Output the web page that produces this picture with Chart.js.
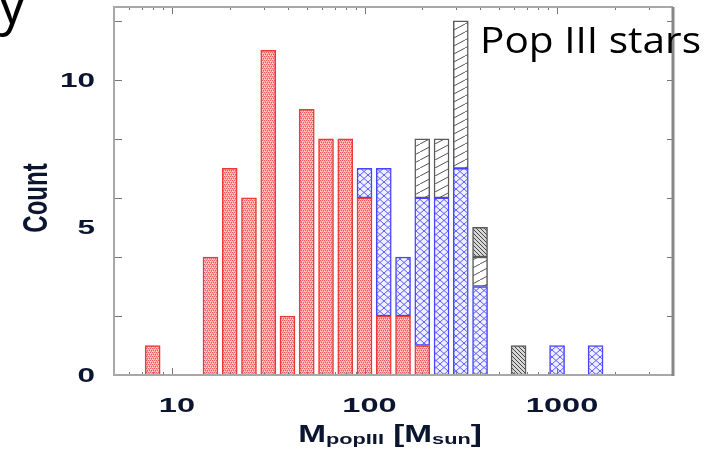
<!DOCTYPE html>
<html><head><meta charset="utf-8">
<script src="https://cdn.jsdelivr.net/npm/chart.js@4"></script>
<style>html,body{margin:0;padding:0;background:#fff;overflow:hidden}#c{display:block}</style>
</head><body>
<canvas id="c" width="716" height="453"></canvas>
<script>
// ---- data ----
const binCenters      = [7.94, 15.85, 19.95, 25.12, 31.62, 39.81, 50.12, 63.10, 79.43, 100, 125.9, 158.5, 199.5, 251.2, 316.2, 398.1, 631.0, 1000, 1585];
const redCounts       = [1, 4, 7, 6, 11, 2, 9, 8, 8, 6, 2, 2, 1, 0, 0, 0, 0, 0, 0];
const blueCounts      = [0, 0, 0, 0, 0, 0, 0, 0, 0, 1, 5, 2, 5, 6, 7, 3, 0, 1, 1];
const grayCounts      = [0, 0, 0, 0, 0, 0, 0, 0, 0, 0, 0, 0, 2, 2, 5, 1, 0, 0, 0];
const grayDenseCounts = [0, 0, 0, 0, 0, 0, 0, 0, 0, 0, 0, 0, 0, 0, 0, 1, 1, 0, 0];
const yTickLabels = [0, 5, 10];
const yTickMarks  = [2, 4, 6, 8, 10, 12];
const xTickLabels = [10, 100, 1000];
const xMin = 5, xMax = 4000, yMax = 12.47;

// ---- patterns ----
function tile(w, h, draw) {
  const c = document.createElement('canvas'); c.width = w; c.height = h;
  const g = c.getContext('2d'); draw(g, w, h);
  return document.getElementById('c').getContext('2d').createPattern(c, 'repeat');
}
const redPat = tile(4, 4, (g) => {
  g.fillStyle = '#f9b4b4'; g.fillRect(0, 0, 4, 4);
  g.fillStyle = '#ec5858';
  g.fillRect(0, 0, 1, 1); g.fillRect(2, 0, 1, 1); g.fillRect(1, 2, 1, 1); g.fillRect(3, 2, 1, 1);
  g.fillStyle = '#f38a8a'; g.fillRect(1, 1, 1, 1); g.fillRect(3, 3, 1, 1);
  g.fillStyle = '#fde0e0'; g.fillRect(0, 3, 1, 1); g.fillRect(2, 1, 1, 1);
});
const bluePat = tile(8, 7, (g, w, h) => {
  g.fillStyle = '#f0f0ff'; g.fillRect(0, 0, w, h);
  g.strokeStyle = '#5c5cff'; g.lineWidth = 1;
  g.beginPath(); g.moveTo(0, 0); g.lineTo(w, h); g.moveTo(w, 0); g.lineTo(0, h); g.stroke();
});
const grayPat = tile(15, 8, (g, w, h) => {
  g.fillStyle = '#ffffff'; g.fillRect(0, 0, w, h);
  g.strokeStyle = '#555'; g.lineWidth = 1;
  g.beginPath();
  g.moveTo(0, h); g.lineTo(w, 0);
  g.moveTo(-w, h); g.lineTo(0, 0);
  g.moveTo(w, h); g.lineTo(2 * w, 0);
  g.stroke();
});
const grayDensePat = tile(4, 4, (g, w, h) => {
  g.fillStyle = '#d8d8d8'; g.fillRect(0, 0, w, h);
  g.strokeStyle = '#444'; g.lineWidth = 1;
  g.beginPath(); g.moveTo(-1, -1); g.lineTo(w + 1, h + 1);
  g.moveTo(-1, h - 1); g.lineTo(1, h + 1); g.moveTo(w - 1, -1); g.lineTo(w + 1, 1); g.stroke();
});

function pts(counts) {
  const out = [];
  counts.forEach((v, i) => { if (v > 0) out.push({ x: binCenters[i], y: v }); });
  return out;
}
function ds(counts, bg, border) {
  return { data: pts(counts), backgroundColor: bg, borderColor: border, borderWidth: 1.5,
           borderSkipped: false, barThickness: 15, stack: 's' };
}

const NAVY = '#0c1530';
function sText(ctx, txt, x, y, sx, align) {
  ctx.save(); ctx.translate(x, y); ctx.scale(sx, 1); ctx.textAlign = align; ctx.fillText(txt, 0, 0); ctx.restore();
}

const frame = {
  id: 'frame',
  afterDatasetsDraw(chart) {
    const ctx = chart.ctx, a = chart.chartArea, xs = chart.scales.x, ys = chart.scales.y;
    ctx.save();
    // ticks
    ctx.strokeStyle = '#777'; ctx.lineWidth = 1;
    ctx.beginPath();
    for (let d = 1; d <= 1000; d *= 10) {
      for (let m = 1; m <= 9; m++) {
        const v = d * m;
        if (v < xMin || v > xMax) continue;
        const px = Math.round(xs.getPixelForValue(v)) + 0.5;
        const len = (m === 1) ? 7 : 3;
        ctx.moveTo(px, a.bottom); ctx.lineTo(px, a.bottom - len);
        ctx.moveTo(px, a.top); ctx.lineTo(px, a.top + len);
      }
    }
    yTickMarks.forEach(v => {
      const py = Math.round(ys.getPixelForValue(v)) + 0.5;
      ctx.moveTo(a.left, py); ctx.lineTo(a.left + 8, py);
      ctx.moveTo(a.right, py); ctx.lineTo(a.right - 6, py);
    });
    ctx.stroke();
    // border
    ctx.strokeStyle = '#a8a8a8'; ctx.lineWidth = 2;
    ctx.beginPath();
    ctx.moveTo(a.right, a.top); ctx.lineTo(a.left, a.top); ctx.lineTo(a.left, a.bottom); ctx.lineTo(a.right, a.bottom);
    ctx.stroke();
    ctx.strokeStyle = '#888'; ctx.lineWidth = 3;
    ctx.beginPath(); ctx.moveTo(a.right, a.top); ctx.lineTo(a.right, a.bottom + 1); ctx.stroke();

    // tick labels
    ctx.fillStyle = NAVY;
    ctx.font = 'bold 21px "Liberation Sans", Arial, sans-serif';
    ctx.textBaseline = 'middle';
    yTickLabels.forEach(v => sText(ctx, String(v), 95, ys.getPixelForValue(v) + 1, 1.5, 'right'));
    xTickLabels.forEach(v => sText(ctx, String(v), xs.getPixelForValue(v) + 5, 406, 1.55, 'center'));

    // axis titles
    ctx.save();
    ctx.translate(37, 198); ctx.scale(1.47, 1); ctx.rotate(-Math.PI / 2);
    ctx.font = 'bold 24px "Liberation Sans", Arial, sans-serif';
    ctx.textAlign = 'center'; ctx.textBaseline = 'middle';
    ctx.fillText('Count', 0, 0);
    ctx.restore();

    const parts = [['M', 23, 442], ['popIII', 15, 444], [' [M', 23, 442], ['sun', 15, 444], [']', 23, 442]];
    const sx = 1.45;
    ctx.textBaseline = 'alphabetic';
    let total = 0;
    parts.forEach(p => { ctx.font = 'bold ' + p[1] + 'px "Liberation Sans", Arial, sans-serif'; total += ctx.measureText(p[0]).width * sx; });
    let x = 390 - total / 2;
    parts.forEach(p => {
      ctx.font = 'bold ' + p[1] + 'px "Liberation Sans", Arial, sans-serif';
      sText(ctx, p[0], x, p[2], sx, 'left');
      x += ctx.measureText(p[0]).width * sx;
    });

    // slide texts
    ctx.fillStyle = '#000';
    ctx.font = '37px "Open Sans", sans-serif';
    const w = ctx.measureText('Pop III stars').width;
    sText(ctx, 'Pop III stars', 480, 53, 221 / w, 'left');
    ctx.font = '56px "Open Sans", sans-serif';
    ctx.fillText('y', -2, 23);
    ctx.restore();
  }
};

new Chart(document.getElementById('c'), {
  type: 'bar',
  data: {
    datasets: [
      ds(redCounts, redPat, 'rgba(235,45,45,0.95)'),
      ds(blueCounts, bluePat, 'rgba(60,60,255,0.95)'),
      ds(grayCounts, grayPat, '#5a5a5a'),
      ds(grayDenseCounts, grayDensePat, '#5a5a5a')
    ]
  },
  options: {
    responsive: false, animation: false, devicePixelRatio: 1,
    layout: { padding: { left: 114, right: 43, top: 7, bottom: 78 } },
    plugins: { legend: { display: false }, tooltip: { enabled: false } },
    scales: {
      x: { type: 'logarithmic', min: xMin, max: xMax, display: false, stacked: true },
      y: { type: 'linear', min: 0, max: yMax, display: false, stacked: true }
    }
  },
  plugins: [frame]
});
</script>
</body></html>
